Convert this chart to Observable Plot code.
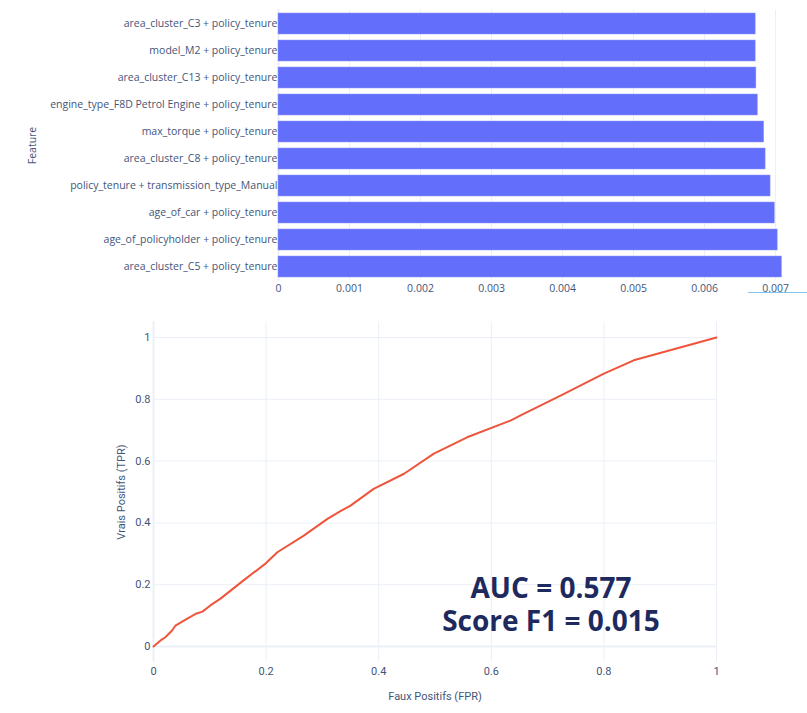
<!DOCTYPE html>
<html>
<head>
<meta charset="utf-8">
<script src="https://cdn.jsdelivr.net/npm/d3@7"></script>
<script src="https://cdn.jsdelivr.net/npm/@observablehq/plot@0.6"></script>
<style>
  html, body { margin: 0; padding: 0; background: #ffffff; }
  #page { position: relative; width: 807px; height: 713px; overflow: hidden; background: #ffffff; }
  #top { position: absolute; left: 0; top: 0; }
  #bottom { position: absolute; left: 0; top: 305px; }
  #scores { position: absolute; left: 401px; top: 571px; width: 300px; text-align: center;
    font-family: "Open Sans", "Noto Sans", sans-serif; font-weight: 700; font-size: 28px; line-height: 33px; color: #1e2a5e; }
  #artifact { position: absolute; left: 748px; top: 292px; width: 59px; height: 0; border-top: 1px solid #7cc6ea; }
</style>
</head>
<body>
<div id="page">
  <div id="top"></div>
  <div id="bottom"></div>
  <div id="scores"><div>AUC = 0.577</div><div>Score F1 = 0.015</div></div>
  <div id="artifact"></div>
</div>
<script>
// ---- Feature importance (top chart) ----
const features = [
  "area_cluster_C3 + policy_tenure",
  "model_M2 + policy_tenure",
  "area_cluster_C13 + policy_tenure",
  "engine_type_F8D Petrol Engine + policy_tenure",
  "max_torque + policy_tenure",
  "area_cluster_C8 + policy_tenure",
  "policy_tenure + transmission_type_Manual",
  "age_of_car + policy_tenure",
  "age_of_policyholder + policy_tenure",
  "area_cluster_C5 + policy_tenure"
];
const importance = [0.00672, 0.00672, 0.00673, 0.00675, 0.00684, 0.00686, 0.00693, 0.00699, 0.00703, 0.00709];
const importanceTicks = [0, 0.001, 0.002, 0.003, 0.004, 0.005, 0.006, 0.007];

// ---- ROC curve (bottom chart) ----
const fpr = [0, 0.012, 0.021, 0.033, 0.039, 0.060, 0.075, 0.087, 0.101, 0.119, 0.160, 0.200, 0.220, 0.267, 0.309, 0.332, 0.350, 0.391, 0.445, 0.498, 0.557, 0.634, 0.652, 0.723, 0.800, 0.853, 1];
const tpr = [0, 0.019, 0.030, 0.052, 0.068, 0.090, 0.106, 0.113, 0.133, 0.155, 0.214, 0.270, 0.305, 0.359, 0.413, 0.438, 0.456, 0.510, 0.559, 0.624, 0.677, 0.731, 0.748, 0.812, 0.883, 0.926, 1];
const rocTicks = [0, 0.2, 0.4, 0.6, 0.8, 1];

const textColor = "#44557a";
const gridColor = "#EBF0F8";
const barColor = "#636EFA";
const lineColor = "#EF553B";

const importanceData = features.map((f, i) => ({feature: f, value: importance[i]}));
const rocData = fpr.map((x, i) => ({fpr: x, tpr: tpr[i]}));

const topChart = Plot.plot({
  width: 807,
  height: 300,
  marginLeft: 278,
  marginRight: 0,
  marginTop: 9.5,
  marginBottom: 19.5,
  style: {fontFamily: "'Open Sans', sans-serif", fontSize: "10.5px", color: textColor, background: "white", overflow: "visible"},
  x: {domain: [0, 0.00745], ticks: importanceTicks, tickFormat: d => d === 0 ? "0" : d3.format(".3f")(d), tickSize: 0, tickPadding: 4, label: null},
  y: {domain: features, paddingInner: 0.22, paddingOuter: 0.11, tickSize: 0, tickPadding: 1, label: "Feature", labelAnchor: "center", labelOffset: 250},
  marks: [
    Plot.gridX(importanceTicks, {stroke: gridColor, strokeOpacity: 1, strokeWidth: 1}),
    Plot.ruleX([0], {stroke: gridColor, strokeWidth: 2}),
    Plot.barX(importanceData, {x: "value", y: "feature", fill: barColor, stroke: "#8e96fb", strokeWidth: 0.5})
  ]
});
document.getElementById("top").appendChild(topChart);

const bottomChart = Plot.plot({
  width: 807,
  height: 408,
  marginLeft: 153,
  marginRight: 91,
  marginTop: 16.5,
  marginBottom: 51.5,
  style: {fontFamily: "Roboto, 'Open Sans', sans-serif", fontSize: "11px", color: textColor, background: "white", overflow: "visible"},
  x: {domain: [0, 1], ticks: rocTicks, tickFormat: d => String(d), tickSize: 0, tickPadding: 5, label: "Faux Positifs (FPR)", labelAnchor: "center", labelOffset: 38, labelArrow: "none"},
  y: {domain: [-0.05, 1.05], ticks: rocTicks, tickFormat: d => String(d), tickSize: 0, tickPadding: 3, label: "Vrais Positifs (TPR)", labelAnchor: "center", labelOffset: 36, labelArrow: "none"},
  marks: [
    Plot.gridX(rocTicks, {stroke: gridColor, strokeOpacity: 1}),
    Plot.gridY(rocTicks, {stroke: gridColor, strokeOpacity: 1}),
    Plot.ruleY([0], {stroke: gridColor, strokeWidth: 2}),
    Plot.ruleX([0], {stroke: gridColor, strokeWidth: 2}),
    Plot.line(rocData, {x: "fpr", y: "tpr", stroke: lineColor, strokeWidth: 2, curve: "linear"})
  ]
});
document.getElementById("bottom").appendChild(bottomChart);
</script>
</body>
</html>
